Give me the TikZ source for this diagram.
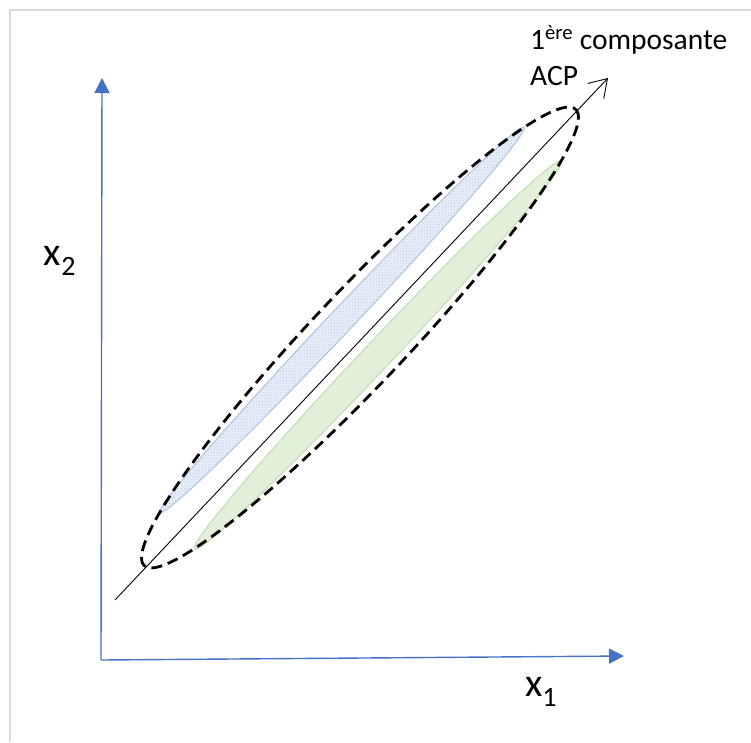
\documentclass[tikz,border=0pt]{standalone}
\usepackage{fontspec}
\setmainfont{Carlito}
\usetikzlibrary{arrows.meta,positioning,patterns}
\definecolor{axisblue}{HTML}{4472C4}
\definecolor{leafblue}{HTML}{B4C7E7}
\definecolor{leafbluefill}{HTML}{EAF0FA}
\definecolor{leafgreen}{HTML}{C5E0B4}
\definecolor{leafgreenfill}{HTML}{E2F0D9}
\definecolor{framegray}{HTML}{D9D9D9}

\begin{document}
\begin{tikzpicture}[x=1pt,y=-1pt,
axis/.style={draw=axisblue,line width=1.4pt,-{Triangle[length=15pt,width=15pt]}},
pca/.style={draw=black,line width=0.9pt,-{Straight Barb[length=17pt,width=22pt,line width=0.9pt]}},
cloud/.style={draw=black,line width=2.8pt,dash pattern=on 11pt off 6pt},
groupA/.style={draw=leafblue,line width=1.2pt,preaction={fill=leafbluefill},pattern=crosshatch dots,pattern color=leafblue},
groupB/.style={draw=leafgreen,line width=1.2pt,fill=leafgreenfill},
lab/.style={inner sep=0pt,font=\fontsize{40}{40}\selectfont},
txt/.style={anchor=base west,inner sep=0pt,font=\fontsize{29.5}{34}\selectfont}]
\useasboundingbox (0,0) rectangle (751,742);
\draw[framegray,line width=2pt] (9.5,742) |- (751,10);
\coordinate (O) at (101,660);
\coordinate (xend) at (624,656);
\coordinate (yend) at (102,78);
\coordinate (dA) at (115,600);
\coordinate (dB) at (608,78);
\coordinate (c) at (360,337.5);
\coordinate (cA) at (342,320);
\coordinate (cB) at (378,355);
\draw[groupA,rotate around={46.6:(cA)}] (cA) ellipse [x radius=265, y radius=12];
\draw[groupB,rotate around={46.6:(cB)}] (cB) ellipse [x radius=267, y radius=14];
\draw[cloud,rotate around={46.6:(c)}] (c) ellipse [x radius=314, y radius=47];
\draw[pca] (dA) -- (dB);
\draw[axis] (O) -- (xend);
\draw[axis] (O) -- (yend);
\node[lab] (x1) at (541,692) {x\textsubscript{1}};
\node[lab] (x2) at (60,261) {x\textsubscript{2}};
\node[txt] (comp) at (530,49) {1\textsuperscript{ère} composante};
\node[txt] (acp) at (530,85) {ACP};
\end{tikzpicture}
\end{document}
